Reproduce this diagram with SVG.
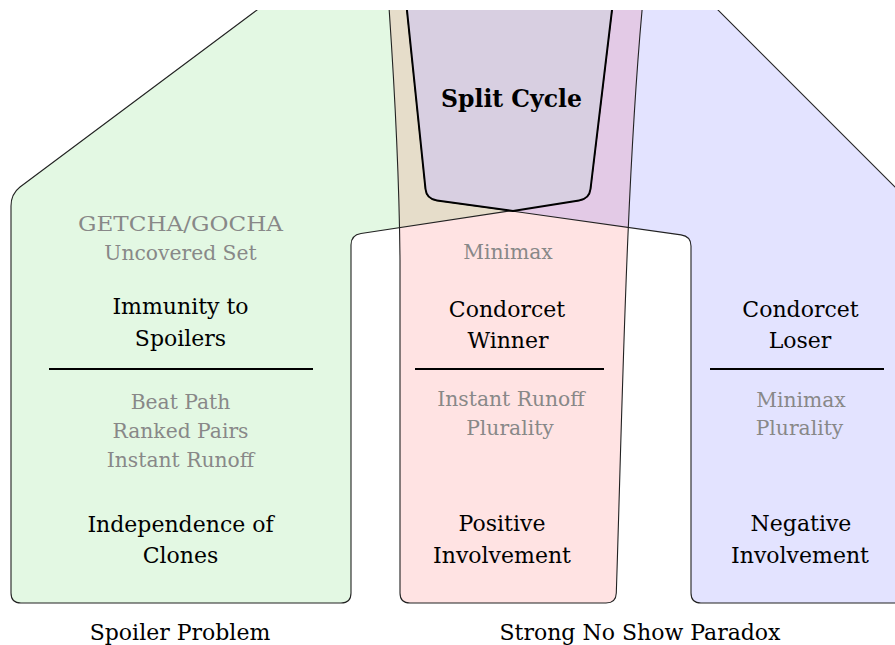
<svg xmlns="http://www.w3.org/2000/svg" width="895" height="645" viewBox="0 0 895 645">
<defs>
<clipPath id="clipTop"><rect x="0" y="10" width="895" height="635"/></clipPath>
<style>
.t{font-family:"DejaVu Serif","Liberation Serif",serif;font-size:22px;fill:#000;text-anchor:middle}
.g{font-family:"DejaVu Serif","Liberation Serif",serif;font-size:20.3px;fill:#888;text-anchor:middle}
.b{font-family:"DejaVu Serif","Liberation Serif",serif;font-size:23.5px;font-weight:bold;fill:#000;text-anchor:middle}
.edge{fill:none;stroke:#222;stroke-width:1.1;stroke-linejoin:round}
.div{stroke:#000;stroke-width:2}
</style>
</defs>
<g clip-path="url(#clipTop)">
<g id="fills">
<path id="fill-green" d="M270.4,0 L20,187 Q11,194 11,206 L11,593 Q11,603 21,603 L341,603 Q351,603 351,593 L351,245 Q351,235 361,233.5 L579,200.4 Q589.3,199 590.5,189 L613.2,0 Z" fill="rgb(40,200,40)" fill-opacity="0.13"/>
<path id="fill-red" d="M388.5,0 Q399,150 400,260 L400,593 Q400,603 410,603 L606,603 Q616,603 616.3,593 C622,420 626,180 643,0 Z" fill="rgb(255,40,40)" fill-opacity="0.13"/>
<path id="fill-blue" d="M708,0 L920,212 L920,603 L701,603 Q691,603 691,593 L691,246 Q691,236.3 681,234.9 L437,200.4 Q426.5,199 425.5,189 L405.9,0 Z" fill="rgb(40,40,255)" fill-opacity="0.13"/>
</g>
<g id="spoiler-region">
<path class="edge" d="M270.4,0 L20,187 Q11,194 11,206 L11,593 Q11,603 21,603 L341,603 Q351,603 351,593 L351,245 Q351,235 361,233.5 L579,200.4 Q589.3,199 590.5,189 L613.2,0"/>
<text class="g" x="180.5" y="231" textLength="205" lengthAdjust="spacingAndGlyphs">GETCHA/GOCHA</text>
<text class="g" x="180.5" y="260">Uncovered Set</text>
<text class="t" x="180.5" y="314">Immunity to</text>
<text class="t" x="180.5" y="345.5">Spoilers</text>
<line class="div" x1="49" y1="369" x2="313" y2="369"/>
<text class="g" x="180.5" y="409">Beat Path</text>
<text class="g" x="180.5" y="438">Ranked Pairs</text>
<text class="g" x="180.5" y="467">Instant Runoff</text>
<text class="t" x="180.5" y="532">Independence of</text>
<text class="t" x="180.5" y="563">Clones</text>
</g>
<g id="positive-region">
<path class="edge" d="M388.5,0 Q399,150 400,260 L400,593 Q400,603 410,603 L606,603 Q616,603 616.3,593 C622,420 626,180 643,0"/>
<text class="g" x="508" y="259">Minimax</text>
<text class="t" x="507" y="317">Condorcet</text>
<text class="t" x="508" y="348">Winner</text>
<line class="div" x1="415" y1="369" x2="604" y2="369"/>
<text class="g" x="511" y="406">Instant Runoff</text>
<text class="g" x="510" y="435">Plurality</text>
<text class="t" x="502" y="531">Positive</text>
<text class="t" x="502" y="563">Involvement</text>
</g>
<g id="negative-region">
<path class="edge" d="M708,0 L920,212 M920,603 L701,603 Q691,603 691,593 L691,246 Q691,236.3 681,234.9 L437,200.4 Q426.5,199 425.5,189 L405.9,0"/>
<text class="t" x="800.5" y="317">Condorcet</text>
<text class="t" x="800" y="348">Loser</text>
<line class="div" x1="710" y1="369" x2="884" y2="369"/>
<text class="g" x="801" y="407">Minimax</text>
<text class="g" x="799.5" y="435">Plurality</text>
<text class="t" x="801" y="531">Negative</text>
<text class="t" x="800" y="563">Involvement</text>
</g>
<g id="split-cycle">
<path d="M405.9,0 L425.5,189 Q426.5,199 437,200.4 L513,211 L579,200.4 Q589.3,199 590.5,189 L613.2,0 Z" fill="#d8cfe1" stroke="none"/>
<path d="M405.9,0 L425.5,189 Q426.5,199 437,200.4 L513,211 L579,200.4 Q589.3,199 590.5,189 L613.2,0" fill="none" stroke="#000" stroke-width="2" stroke-linejoin="round"/>
<text class="b" x="511.5" y="107">Split Cycle</text>
</g>
</g>
<g id="labels">
<text class="t" x="180" y="640">Spoiler Problem</text>
<text class="t" x="640" y="640">Strong No Show Paradox</text>
</g>
</svg>
